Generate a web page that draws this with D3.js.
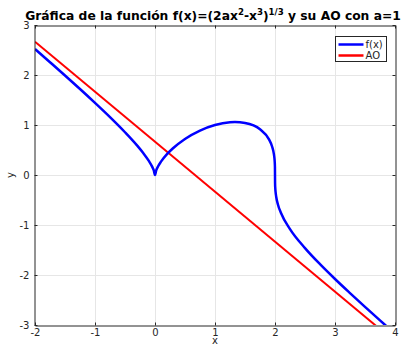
<!DOCTYPE html>
<html>
<head>
<meta charset="utf-8">
<script src="https://cdn.jsdelivr.net/npm/d3@7"></script>
<style>
  body { margin: 0; background: #fff; }
  svg { display: block; }
  text { font-family: "DejaVu Sans", sans-serif; }
</style>
</head>
<body>
<svg id="chart" width="404" height="345"></svg>
<script>
// Sampled points of f(x) = (2ax^2 - x^3)^(1/3), a = 1 (denser near the cusps at 0 and 2)
const fxX = [-2, -1.75, -1.5, -1.25, -1, -0.75, -0.5, -0.3, -0.2, -0.1, -0.05, -0.02, 0,
             0.02, 0.05, 0.1, 0.2, 0.3, 0.5, 0.75, 1, 1.25, 1.333, 1.5, 1.75, 1.9, 1.95,
             1.98, 1.99, 1.995, 1.999, 2, 2.001, 2.005, 2.01, 2.02, 2.05, 2.1, 2.25, 2.5,
             2.75, 3, 3.25, 3.5, 3.75, 3.85];
const fxY = [2.520, 2.256, 1.990, 1.719, 1.442, 1.157, 0.855, 0.592, 0.445, 0.276, 0.172, 0.093, 0,
             0.093, 0.170, 0.267, 0.416, 0.535, 0.721, 0.889, 1.000, 1.054, 1.058, 1.040, 0.915, 0.712, 0.575,
             0.428, 0.341, 0.271, 0.159, 0, -0.159, -0.272, -0.343, -0.434, -0.595, -0.761, -1.082, -1.462,
             -1.784, -2.080, -2.362, -2.638, -2.908, -3.015];

// Oblique asymptote y = -x + 2a/3 (end points)
const aoX = [-2, 4];
const aoY = [2.667, -3.333];

const xTicks = [-2, -1, 0, 1, 2, 3, 4];
const yTicks = [-3, -2, -1, 0, 1, 2, 3];
const seriesNames = ["f(x)", "AO"];
const seriesColors = ["#0000ff", "#ff0000"];

const svg = d3.select("#chart");
const m = { left: 35, right: 395, top: 25, bottom: 325 };

const x = d3.scaleLinear().domain([-2, 4]).range([m.left, m.right]);
const y = d3.scaleLinear().domain([-3, 3]).range([m.bottom, m.top]);

const axisColor = "#262626";
const tickLen = 3;
const fmt = d => String(d);

// Clip region for the curves
svg.append("defs").append("clipPath").attr("id", "plotClip")
  .append("rect")
  .attr("x", m.left).attr("y", m.top)
  .attr("width", m.right - m.left).attr("height", m.bottom - m.top);

// Grid lines
const grid = svg.append("g").attr("stroke", "#e6e6e6").attr("stroke-width", 1);
grid.selectAll(".gx").data(xTicks.slice(1, -1)).join("line")
  .attr("x1", d => Math.round(x(d)) + 0.5).attr("x2", d => Math.round(x(d)) + 0.5)
  .attr("y1", m.top).attr("y2", m.bottom);
grid.selectAll(".gy").data(yTicks.slice(1, -1)).join("line")
  .attr("x1", m.left).attr("x2", m.right)
  .attr("y1", d => Math.round(y(d)) + 0.5).attr("y2", d => Math.round(y(d)) + 0.5);

// Curves
const line = d3.line().x(d => x(d[0])).y(d => y(d[1]));
const plot = svg.append("g").attr("clip-path", "url(#plotClip)");

plot.append("path")
  .datum(aoX.map((v, i) => [v, aoY[i]]))
  .attr("fill", "none").attr("stroke", seriesColors[1]).attr("stroke-width", 2)
  .attr("d", line);

plot.append("path")
  .datum(fxX.map((v, i) => [v, fxY[i]]))
  .attr("fill", "none").attr("stroke", seriesColors[0]).attr("stroke-width", 2.5)
  .attr("stroke-linejoin", "round")
  .attr("d", line.curve(d3.curveMonotoneX));

// Axes: bottom/left with labels, top/right ticks only, all ticks pointing inward
const axB = svg.append("g").attr("transform", `translate(0,${m.bottom + 0.5})`)
  .call(d3.axisBottom(x).tickValues(xTicks).tickFormat(fmt).tickSizeInner(-tickLen).tickSizeOuter(0).tickPadding(4));
const axL = svg.append("g").attr("transform", `translate(${m.left - 0.5},0)`)
  .call(d3.axisLeft(y).tickValues(yTicks).tickFormat(fmt).tickSizeInner(-tickLen).tickSizeOuter(0).tickPadding(5));
const axT = svg.append("g").attr("transform", `translate(0,${m.top + 0.5})`)
  .call(d3.axisTop(x).tickValues(xTicks).tickSizeInner(-tickLen).tickSizeOuter(0).tickFormat(""));
const axR = svg.append("g").attr("transform", `translate(${m.right + 0.5},0)`)
  .call(d3.axisRight(y).tickValues(yTicks).tickSizeInner(-tickLen).tickSizeOuter(0).tickFormat(""));

[axB, axL, axT, axR].forEach(a => {
  a.select(".domain").attr("stroke", axisColor);
  a.selectAll(".tick line").attr("stroke", axisColor);
  a.selectAll(".tick text").attr("fill", axisColor)
    .style("font-family", "DejaVu Sans, sans-serif").style("font-size", "10px");
});
axB.selectAll(".tick text").attr("dy", "0.6em");

// Axis titles
svg.append("text").attr("x", x(1)).attr("y", 344)
  .attr("text-anchor", "middle").attr("font-size", 10).attr("fill", axisColor).text("x");
svg.append("text").attr("transform", `translate(14,${y(0)}) rotate(-90)`)
  .attr("text-anchor", "middle").attr("font-size", 10).attr("fill", axisColor).text("y");

// Title with superscripts, sized to span the top of the figure
const title = svg.append("text").attr("x", 213).attr("y", 20)
  .attr("text-anchor", "middle").attr("font-size", 13).attr("font-weight", "bold").attr("fill", "#000");
const sup = t => title.append("tspan").attr("baseline-shift", "super").attr("font-size", "0.7em").text(t);
title.append("tspan").text("Gráfica de la función f(x)=(2ax");
sup("2");
title.append("tspan").text("-x");
sup("3");
title.append("tspan").text(")");
sup("1/3");
title.append("tspan").text(" y su AO con a=1");
const tw = title.node().getComputedTextLength();
title.attr("font-size", 13 * 376 / tw);

// Legend
const lg = svg.append("g").attr("transform", "translate(335.5,36.5)");
lg.append("rect").attr("width", 51).attr("height", 25)
  .attr("fill", "#fff").attr("stroke", axisColor).attr("stroke-width", 1);
seriesNames.forEach((name, i) => {
  const cy = 8 + i * 11;
  lg.append("line").attr("x1", 3).attr("x2", 28).attr("y1", cy).attr("y2", cy)
    .attr("stroke", seriesColors[i]).attr("stroke-width", 2.5);
  lg.append("text").attr("x", 30).attr("y", cy + 3.5)
    .attr("font-size", 10).attr("fill", axisColor).text(name);
});
</script>
</body>
</html>
